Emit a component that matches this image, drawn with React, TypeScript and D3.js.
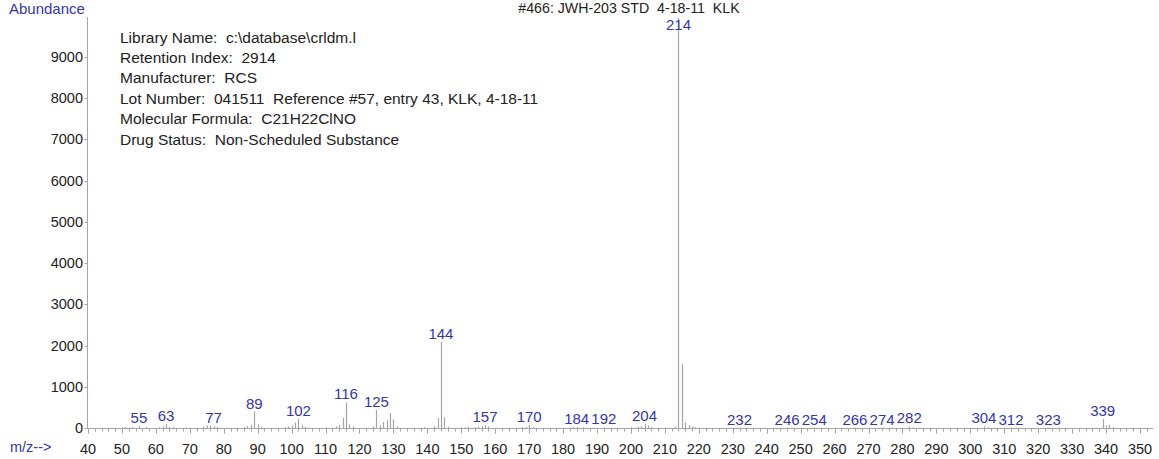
import React from "react";
import * as d3 from "d3";

const title = "#466: JWH-203 STD  4-18-11  KLK";
const infoLines = [
  "Library Name:  c:\\database\\crldm.l",
  "Retention Index:  2914",
  "Manufacturer:  RCS",
  "Lot Number:  041511  Reference #57, entry 43, KLK, 4-18-11",
  "Molecular Formula:  C21H22ClNO",
  "Drug Status:  Non-Scheduled Substance",
];

const mzValues = [
  50, 51, 52, 53, 55, 57, 61, 62, 63, 64, 65, 69, 74, 75, 76, 77, 78, 86, 87, 88, 89, 90, 91,
  98, 99, 100, 101, 102, 103, 104, 110, 113, 114, 115, 116, 117, 118, 124, 125, 126, 127, 128,
  129, 130, 131, 139, 142, 143, 144, 145, 146, 150, 151, 152, 154, 155, 156, 157, 158, 168, 169,
  170, 171, 182, 183, 184, 186, 189, 192, 200, 202, 203, 204, 205, 206, 210, 213, 214, 215, 216,
  217, 218, 219, 220, 232, 246, 254, 266, 274, 282, 283, 304, 305, 312, 323, 339, 340, 341, 342,
];
const abundances = [
  20, 30, 15, 20, 50, 25, 20, 40, 100, 30, 20, 15, 30, 60, 60, 50, 25, 20, 50, 80, 400, 90, 30,
  20, 40, 60, 130, 230, 80, 30, 15, 40, 70, 250, 620, 90, 30, 40, 440, 70, 150, 190,
  360, 210, 40, 20, 40, 240, 2090, 260, 30, 15, 20, 30, 20, 30, 50, 75, 40, 20, 30,
  75, 25, 15, 20, 25, 15, 10, 15, 20, 30, 40, 100, 60, 20, 10, 40, 9950, 1550, 140,
  70, 40, 20, 10, 10, 10, 10, 10, 10, 40, 15, 40, 15, 10, 10, 220, 60, 80, 20,
];
const labeledPeaks = [55, 63, 77, 89, 102, 116, 125, 144, 157, 170, 184, 192, 204, 214, 232, 246, 254, 266, 274, 282, 304, 312, 323, 339];

const yTickValues = [0, 1000, 2000, 3000, 4000, 5000, 6000, 7000, 8000, 9000];
const xTickValues = d3.range(40, 351, 10);
const xMinorTicks = d3.range(40, 353, 2);

const FONT = "'Liberation Sans', Arial, sans-serif";
const BLUE = "#3535a8";
const TEXT = "#222";
const GRAY = "#a5a5a5";

export default function App() {
  const x = d3.scaleLinear().domain([40, 350]).range([88, 1140]);
  const y = d3.scaleLinear().domain([0, 9000]).range([428, 57]);
  const peaks = mzValues.map((m, i) => ({ mz: m, v: abundances[i] }));
  const peakMap = new Map(peaks.map((p) => [p.mz, p.v]));
  const axisX = 87.5;
  const baseY = y(0) + 0.5;

  return (
    <svg
      width={1159}
      height={459}
      style={{ position: "absolute", left: 0, top: 0, background: "#fff" }}
      fontFamily={FONT}
    >
      <text x={629} y={13} textAnchor="middle" fontSize={14.2} fill={TEXT} style={{ whiteSpace: "pre" }}>{title}</text>
      <text x={9} y={14} fontSize={15} fill={BLUE}>Abundance</text>
      {infoLines.map((t, i) => (
        <text key={i} x={120} y={42.5 + i * 20.4} fontSize={15.5} fill={TEXT} style={{ whiteSpace: "pre" }}>{t}</text>
      ))}

      {/* y axis */}
      <line x1={axisX} x2={axisX} y1={17} y2={baseY} stroke={GRAY} strokeWidth={1} />
      {yTickValues.map((t) => (
        <g key={t}>
          <line x1={axisX - 3} x2={axisX} y1={Math.round(y(t)) + 0.5} y2={Math.round(y(t)) + 0.5} stroke={GRAY} />
          <text x={83} y={y(t) + 5} textAnchor="end" fontSize={14.5} fill={TEXT}>{t}</text>
        </g>
      ))}

      {/* x axis */}
      <line x1={axisX} x2={1153} y1={baseY} y2={baseY} stroke={GRAY} strokeWidth={1} />
      {xMinorTicks.map((t) => (
        <line key={t} x1={Math.round(x(t)) + 0.5} x2={Math.round(x(t)) + 0.5} y1={baseY} y2={baseY + (t % 10 === 0 ? 5 : 3)} stroke={GRAY} />
      ))}
      {xTickValues.map((t) => (
        <text key={t} x={x(t)} y={454} textAnchor="middle" fontSize={14.5} fill={TEXT}>{t}</text>
      ))}
      <text x={10} y={452} fontSize={14.5} fill={BLUE}>m/z--&gt;</text>

      {/* peaks */}
      {peaks.map((p) => (
        <line key={p.mz} x1={Math.round(x(p.mz)) + 0.5} x2={Math.round(x(p.mz)) + 0.5} y1={baseY} y2={y(p.v)} stroke={GRAY} strokeWidth={1.2} />
      ))}
      {labeledPeaks.map((m) => {
        const v = peakMap.get(m) ?? 0;
        const ly = Math.max(30, y(v) - 3);
        return (
          <text key={m} x={x(m)} y={ly} textAnchor="middle" fontSize={15} fill={BLUE}>{m}</text>
        );
      })}
    </svg>
  );
}
